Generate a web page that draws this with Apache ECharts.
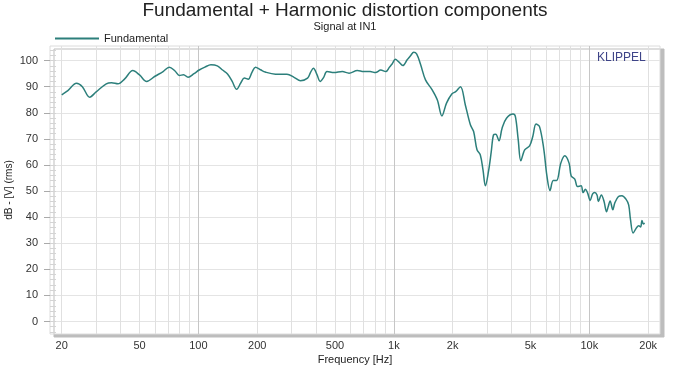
<!DOCTYPE html>
<html>
<head>
<meta charset="utf-8">
<script src="https://cdn.jsdelivr.net/npm/echarts@6/dist/echarts.min.js"></script>
<style>
html,body{margin:0;padding:0;background:#fff;}
#chart{width:690px;height:369px;}
</style>
</head>
<body>
<div id="chart"></div>
<script>
// Frequency (Hz) and level (dB) of the fundamental
const freqHz = [20,21.5,23.8,25.5,27.8,30,33.8,36,38.8,42,46.2,50,54.4,60,66,71,76,80,84,88.6,95,101,108,116,125,133,141,149,157,165,172,180,188,196,208,220,248,284,310,333,362,375,388,405,420,437,455,494,545,590,651,700,757,806,857,910,950,980,1018,1060,1112,1170,1220,1264,1310,1372,1452,1571,1670,1762,1860,1980,2072,2192,2322,2464,2560,2664,2768,2860,2940,3050,3150,3234,3322,3450,3580,3770,4076,4188,4330,4464,4672,4950,5140,5340,5564,5850,6070,6300,6540,6800,7150,7490,7880,8080,8430,8700,9080,9300,9560,9810,10100,10400,10660,10950,11130,11530,11900,12250,12500,12780,13200,13500,14100,14700,15400,15900,16250,16760,17400,17900,18300,18600,18900,19200];
const fundamentalDb = [86.9,88.5,91.3,90.0,86.0,88.0,91.1,91.5,91.1,93.0,96.2,94.5,92.0,94.0,95.8,97.5,96.0,94.3,94.6,93.6,95.0,96.4,97.5,98.4,98.0,96.4,94.9,92.0,89.0,91.5,93.3,92.9,95.5,97.5,96.5,95.6,94.8,94.8,93.5,92.3,93.3,95.5,97.1,94.5,92.0,93.5,95.8,95.4,95.8,95.2,96.2,95.8,95.8,95.4,96.4,95.8,97.5,98.7,100.5,99.5,98.1,100.3,102.0,103.2,102.5,98.4,92.6,88.8,84.9,78.8,83.7,87.2,88.1,90.0,83.0,75.4,72.8,65.8,63.9,58.0,52.0,57.5,65.0,71.5,71.8,69.3,74.1,77.9,79.5,78.5,69.6,61.6,65.8,67.3,70.9,75.7,74.7,66.1,55.8,50.2,54.0,54.0,60.7,63.5,60.7,55.8,54.6,51.7,52.0,49.4,50.7,49.2,46.4,48.9,49.4,48.5,46.0,48.5,46.0,42.1,44.1,46.2,42.8,45.4,47.9,48.2,46.9,44.7,39.0,33.9,35.8,36.7,36.2,38.7,37.4,37.7];

const xLabelValues = [20,50,100,200,500,1000,2000,5000,10000,20000];
const xGridValues = [20,30,40,50,60,70,80,90,100,200,300,400,500,600,700,800,900,1000,2000,3000,4000,5000,6000,7000,8000,9000,10000,20000];
const yLabelValues = [0,10,20,30,40,50,60,70,80,90,100];
const yMinorValues = [-4,-2,0,2,4,6,8,10,12,14,16,18,20,22,24,26,28,30,32,34,36,38,40,42,44,46,48,50,52,54,56,58,60,62,64,66,68,70,72,74,76,78,80,82,84,86,88,90,92,94,96,98,100,102,104];

const FONT = '"Liberation Sans", Arial, sans-serif';
const chart = echarts.init(document.getElementById('chart'), null, {renderer:'canvas'});
const seriesData = freqHz.map((f,i)=>[f, fundamentalDb[i]]);

chart.setOption({
  animation:false,
  backgroundColor:'#fff',
  title:[
    {text:'Fundamental + Harmonic distortion components', left:'center', top:-4,
     textStyle:{fontFamily:FONT, fontSize:19, fontWeight:'normal', color:'#222'}},
    {text:'Signal at IN1', left:'center', top:16,
     textStyle:{fontFamily:FONT, fontSize:11, fontWeight:'normal', color:'#222'}}
  ],
  legend:{
    left:50, top:28, itemWidth:44, itemHeight:2, icon:'rect', itemGap:10,
    textStyle:{fontFamily:FONT, fontSize:11, color:'#222'},
    data:['Fundamental']
  },
  graphic:[
    {type:'text', left:597, top:52, z:100, style:{text:'KLIPPEL', font:'12px '+FONT, fill:'#3e4488'}}
  ],
  grid:{
    left:50, right:30, top:46, bottom:35, show:true, outerBoundsMode:'none', containLabel:false,
    backgroundColor:'#fff', borderColor:'#dcdcdc', borderWidth:1,
    shadowColor:'#bdbdbd', shadowOffsetX:4, shadowOffsetY:3, shadowBlur:0
  },
  xAxis:{
    type:'log', logBase:10, min:17.42, max:23000,
    name:'Frequency [Hz]', nameLocation:'middle', nameGap:20, nameMoveOverlap:false,
    nameTextStyle:{fontFamily:FONT, fontSize:11, color:'#222'},
    axisLine:{show:false},
    axisTick:{show:false, customValues:xGridValues},
    axisLabel:{customValues:xLabelValues, margin:6, fontFamily:FONT, fontSize:11, color:'#333',
      formatter:v=> v>=1000 ? (v/1000)+'k' : String(v)},
    splitLine:{show:true, lineStyle:{width:1, color:['#e0e0e0','#e0e0e0','#e0e0e0','#e0e0e0','#e0e0e0','#e0e0e0','#e0e0e0','#e0e0e0','#c6c6c6']}},
    minorSplitLine:{show:false}
  },
  yAxis:[
    {
      type:'value', min:-4.8, max:105.6,
      name:'dB - [V] (rms)', nameLocation:'middle', nameGap:36, nameRotate:90, nameMoveOverlap:false,
      nameTextStyle:{fontFamily:FONT, fontSize:10, color:'#222'},
      axisLine:{show:false},
      axisTick:{show:true, length:6, customValues:yLabelValues, lineStyle:{color:'#aaa'}},
      axisLabel:{customValues:yLabelValues, margin:12, fontFamily:FONT, fontSize:11, color:'#333'},
      splitLine:{show:true, lineStyle:{color:'#e4e4e4'}}
    },
    {
      type:'value', min:-4.8, max:105.6, position:'left',
      axisLine:{show:false},
      axisTick:{show:true, inside:true, length:6, customValues:yMinorValues, lineStyle:{color:'#d4d4d4'}},
      axisLabel:{show:false},
      splitLine:{show:false}
    }
  ],
  series:[
    {name:'Fundamental', type:'line', data:seriesData, smooth:0.35, showSymbol:false,
     color:'#2c7f7b', lineStyle:{width:1.5, color:'#2c7f7b'}, clip:true}
  ]
});
</script>
</body>
</html>
